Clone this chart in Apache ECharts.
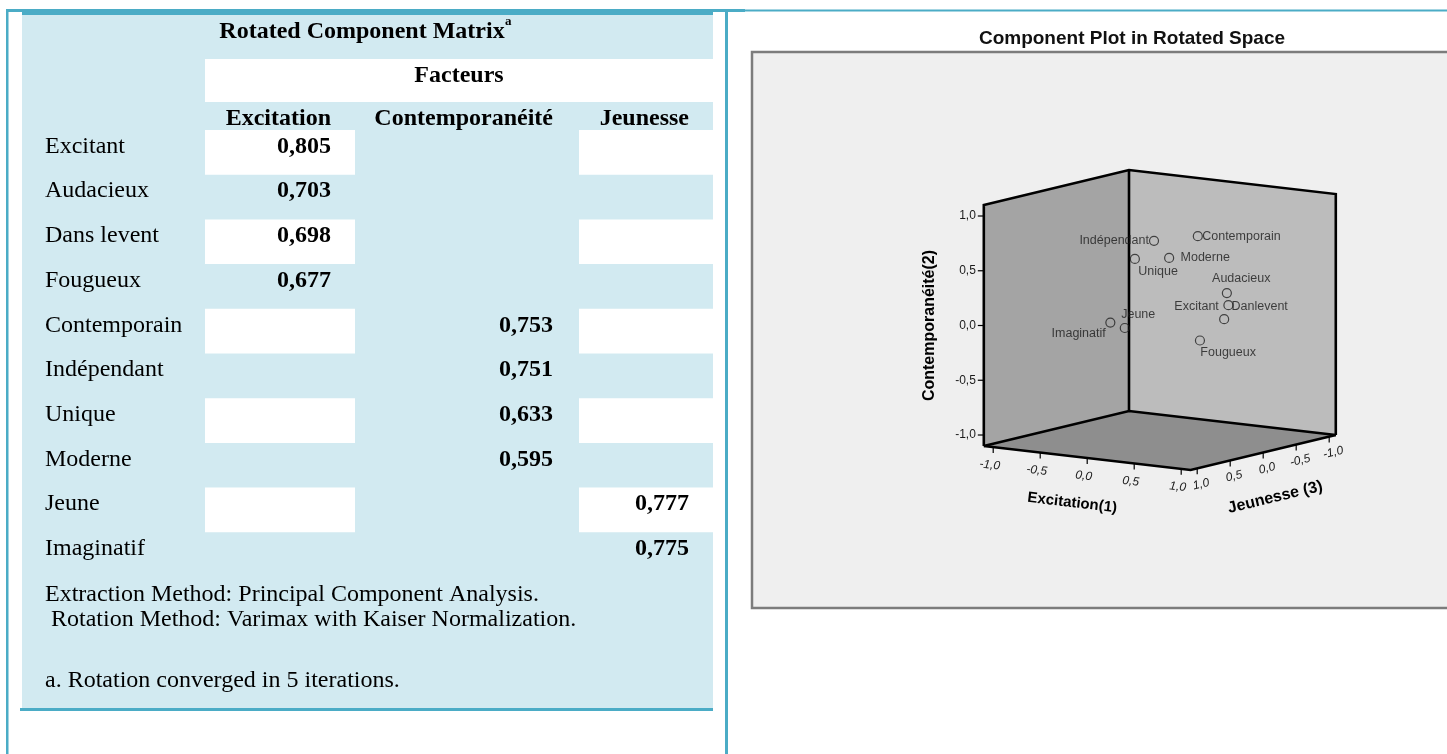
<!DOCTYPE html>
<html>
<head>
<meta charset="utf-8">
<title>Rotated Component Matrix</title>
<script src="https://cdn.jsdelivr.net/npm/echarts@6/dist/echarts.min.js"></script>
<style>
  html, body { margin: 0; padding: 0; background: #fff; }
  #main { width: 1447px; height: 754px; }
</style>
</head>
<body>
<div id="main"></div>
<script>
// table data
const rowLabels = ['Excitant', 'Audacieux', 'Dans levent', 'Fougueux', 'Contemporain',
  'Indépendant', 'Unique', 'Moderne', 'Jeune', 'Imaginatif']
const colHeaders = ['Excitation', 'Contemporanéité', 'Jeunesse']
const loadExcitation = [0.805, 0.703, 0.698, 0.677, null, null, null, null, null, null]
const loadContemporaneite = [null, null, null, null, 0.753, 0.751, 0.633, 0.595, null, null]
const loadJeunesse = [null, null, null, null, null, null, null, null, 0.777, 0.775]
const footNotes = [
  'Extraction Method: Principal Component Analysis.',
  ' Rotation Method: Varimax with Kaiser Normalization.',
  'a. Rotation converged in 5 iterations.'
]

// component plot data (loadings on the three rotated components)
const plotNames = ['Excitant', 'Audacieux', 'Danlevent', 'Fougueux', 'Contemporain',
  'Indépendant', 'Unique', 'Moderne', 'Jeune', 'Imaginatif']
const comp1 = [0.805, 0.703, 0.698, 0.677, 0.231, 0.050, 0.067, 0.159, 0.173, 0.018]
const comp2 = [0.231, 0.314, 0.080, -0.068, 0.753, 0.751, 0.633, 0.595, 0.057, 0.091]
const comp3 = [0.107, -0.015, 0.019, 0.356, -0.247, 0.159, 0.473, 0.085, 0.777, 0.775]
const axisTicks = [-1, -0.5, 0, 0.5, 1]
const tickLabels = ['-1,0', '-0,5', '0,0', '0,5', '1,0']

const SERIF = "'Liberation Serif', 'Times New Roman', serif"
const SANS = "'Liberation Sans', Arial, sans-serif"
const TEAL = '#4bacc6'
const PALE = '#d2eaf1'

const fmt = (v) => v.toFixed(3).replace('.', ',')

// oblique projection of the 3D box onto the plane of a hidden cartesian grid
const CUBE = 1.1
const EX = [0.8584, -0.0995]
const EZ = [-0.6027, -0.1452]
const proj = (x, y, z) => [EX[0] * x + EZ[0] * z, y + EX[1] * x + EZ[1] * z]

// label placement next to each marker: [dx, dy, align]
const labelPlace = {
  Excitant: [-9, 1.5, 'right'],
  Audacieux: [15, -14, 'center'],
  Danlevent: [8, -12.5, 'left'],
  Fougueux: [1, 13, 'left'],
  Contemporain: [5, 1, 'left'],
  'Indépendant': [-4.5, 0, 'right'],
  Unique: [4, 13, 'left'],
  Moderne: [12, 0, 'left'],
  Jeune: [-3, -13, 'left'],
  Imaginatif: [-4, 12, 'right'],
}

const txt = (x, y, text, extra) => ({
  type: 'text', x, y, z: 10, silent: true,
  style: Object.assign({
    text, fill: '#000', fontFamily: SERIF, fontSize: 24,
    align: 'left', verticalAlign: 'middle'
  }, extra || {})
})
const box = (x, y, w, h, fill, z) => ({
  type: 'rect', z: z || 1, silent: true,
  shape: { x, y, width: w, height: h }, style: { fill }
})

function buildTable() {
  const els = []
  const rowTop = (i) => 130 + i * 44.7
  els.push(box(22, 15, 691, 693, PALE))
  els.push(box(205, 59, 508, 43, '#fff', 2))
  rowLabels.forEach((r, i) => {
    if (i % 2 === 0) {
      els.push(box(205, rowTop(i), 150, 44.7, '#fff', 2))
      els.push(box(579, rowTop(i), 134, 44.7, '#fff', 2))
    }
  })
  // frame lines
  els.push(box(6, 9, 2.5, 745, TEAL, 3))
  els.push(box(6, 9, 739, 3, TEAL, 3))
  els.push(box(22, 9, 691, 6, TEAL, 3))
  els.push(box(745, 9.5, 702, 2, TEAL, 3))
  els.push(box(725, 9, 3, 745, TEAL, 3))
  els.push(box(20, 708, 693, 3, TEAL, 3))

  els.push(txt(362, 31.5, 'Rotated Component Matrix', { fontWeight: 'bold', align: 'center' }))
  els.push(txt(505, 22, 'a', { fontWeight: 'bold', fontSize: 13 }))
  els.push(txt(459, 75.5, 'Facteurs', { fontWeight: 'bold', align: 'center' }))
  const colRight = [331, 553, 689]
  colHeaders.forEach((h, j) => {
    els.push(txt(colRight[j], 118.5, h, { fontWeight: 'bold', align: 'right' }))
  })
  const cols = [loadExcitation, loadContemporaneite, loadJeunesse]
  rowLabels.forEach((r, i) => {
    const y = rowTop(i) + 16.5
    els.push(txt(45, y, r))
    cols.forEach((c, j) => {
      if (c[i] != null) els.push(txt(colRight[j], y, fmt(c[i]), { fontWeight: 'bold', align: 'right' }))
    })
  })
  els.push(txt(45, 594.5, footNotes[0]))
  els.push(txt(45, 619.5, footNotes[1]))
  els.push(txt(45, 680.5, footNotes[2]))

  // right panel: chart frame and title
  els.push({
    type: 'rect', z: 0, silent: true,
    shape: { x: 752, y: 52, width: 705, height: 556 },
    style: { fill: '#efefef', stroke: '#7c7c7c', lineWidth: 2.5 }
  })
  els.push(txt(1132, 38.5, 'Component Plot in Rotated Space', {
    fontFamily: SANS, fontWeight: 'bold', fontSize: 19, align: 'center', fill: '#111'
  }))
  return els
}

function renderCube(params, api) {
  const H = CUBE
  const P = (x, y, z) => api.coord(proj(x, y, z))
  const kids = []
  const face = (pts, fill) => kids.push({
    type: 'polygon', shape: { points: pts }, style: { fill }
  })
  face([P(-H, -H, H), P(-H, H, H), P(-H, H, -H), P(-H, -H, -H)], '#a4a4a4')
  face([P(-H, -H, -H), P(-H, H, -H), P(H, H, -H), P(H, -H, -H)], '#bcbcbc')
  face([P(-H, -H, H), P(-H, -H, -H), P(H, -H, -H), P(H, -H, H)], '#8e8e8e')

  const edge = (pts) => kids.push({
    type: 'polyline', shape: { points: pts },
    style: { stroke: '#000', lineWidth: 2.6, fill: null, lineJoin: 'miter' }
  })
  edge([P(-H, -H, H), P(-H, H, H), P(-H, H, -H), P(H, H, -H), P(H, -H, -H)])
  edge([P(-H, H, -H), P(-H, -H, -H)])
  edge([P(-H, -H, H), P(-H, -H, -H), P(H, -H, -H)])
  edge([P(-H, -H, H), P(H, -H, H), P(H, -H, -H)])

  const tick = (a, b) => kids.push({
    type: 'line', shape: { x1: a[0], y1: a[1], x2: b[0], y2: b[1] },
    style: { stroke: '#000', lineWidth: 1.2 }
  })
  const label = (x, y, text, extra) => kids.push({
    type: 'text', x, y,
    rotation: (extra && extra.rotation) || 0,
    style: Object.assign({
      text, fill: '#1a1a1a', fontFamily: SANS, fontSize: 12,
      align: 'center', verticalAlign: 'middle'
    }, extra && extra.style)
  })
  const rotX = -Math.atan2(-EX[1], EX[0])
  const rotZ = Math.atan2(-EZ[1], -EZ[0])
  axisTicks.forEach((t, i) => {
    let p = P(-H, t, H)
    tick([p[0] - 6, p[1]], p)
    label(p[0] - 8, p[1], tickLabels[i], { style: { align: 'right' } })
    p = P(t, -H, H)
    tick(p, [p[0], p[1] + 6])
    label(p[0] - 3.5, p[1] + 18, tickLabels[i], { rotation: rotX, style: { fontStyle: 'italic' } })
    p = P(H, -H, t)
    tick(p, [p[0], p[1] + 6])
    label(p[0] + 4, p[1] + 16, tickLabels[i], { rotation: rotZ, style: { fontStyle: 'italic' } })
  })
  let p = P(-H, 0, H)
  label(p[0] - 54, p[1], 'Contemporanéité(2)', {
    rotation: Math.PI / 2, style: { fontWeight: 'bold', fontSize: 16, fill: '#000' }
  })
  p = P(0, -H, H)
  label(p[0] - 15, p[1] + 45, 'Excitation(1)', {
    rotation: rotX, style: { fontWeight: 'bold', fontSize: 15, fill: '#000' }
  })
  p = P(H, -H, 0)
  label(p[0] + 12, p[1] + 45, 'Jeunesse (3)', {
    rotation: rotZ, style: { fontWeight: 'bold', fontSize: 16, fill: '#000' }
  })
  return { type: 'group', children: kids }
}

const chart = echarts.init(document.getElementById('main'))
chart.setOption({
  animation: false,
  graphic: { elements: buildTable() },
  grid: { left: 940.8, top: 101, width: 438, height: 438, outerBoundsMode: 'none' },
  xAxis: { type: 'value', min: -2, max: 2, show: false },
  yAxis: { type: 'value', min: -2, max: 2, show: false },
  series: [
    {
      type: 'custom',
      coordinateSystem: 'cartesian2d',
      data: [[0, 0]],
      clip: false,
      silent: true,
      z: 3,
      renderItem: renderCube,
    },
    {
      type: 'scatter',
      z: 5,
      silent: true,
      symbol: 'circle',
      symbolSize: 9,
      itemStyle: { color: 'rgba(0,0,0,0)', borderColor: '#222', borderWidth: 1.2 },
      label: {
        show: true, formatter: '{b}', fontFamily: SANS, fontSize: 12.5, color: '#1a1a1a',
        verticalAlign: 'middle'
      },
      data: plotNames.map((n, i) => {
        const lp = labelPlace[n]
        return {
          name: n,
          value: proj(comp1[i], comp2[i], comp3[i]),
          label: { position: [4.5 + lp[0], 4.5 + lp[1]], align: lp[2] }
        }
      }),
    },
  ],
})
</script>
</body>
</html>
